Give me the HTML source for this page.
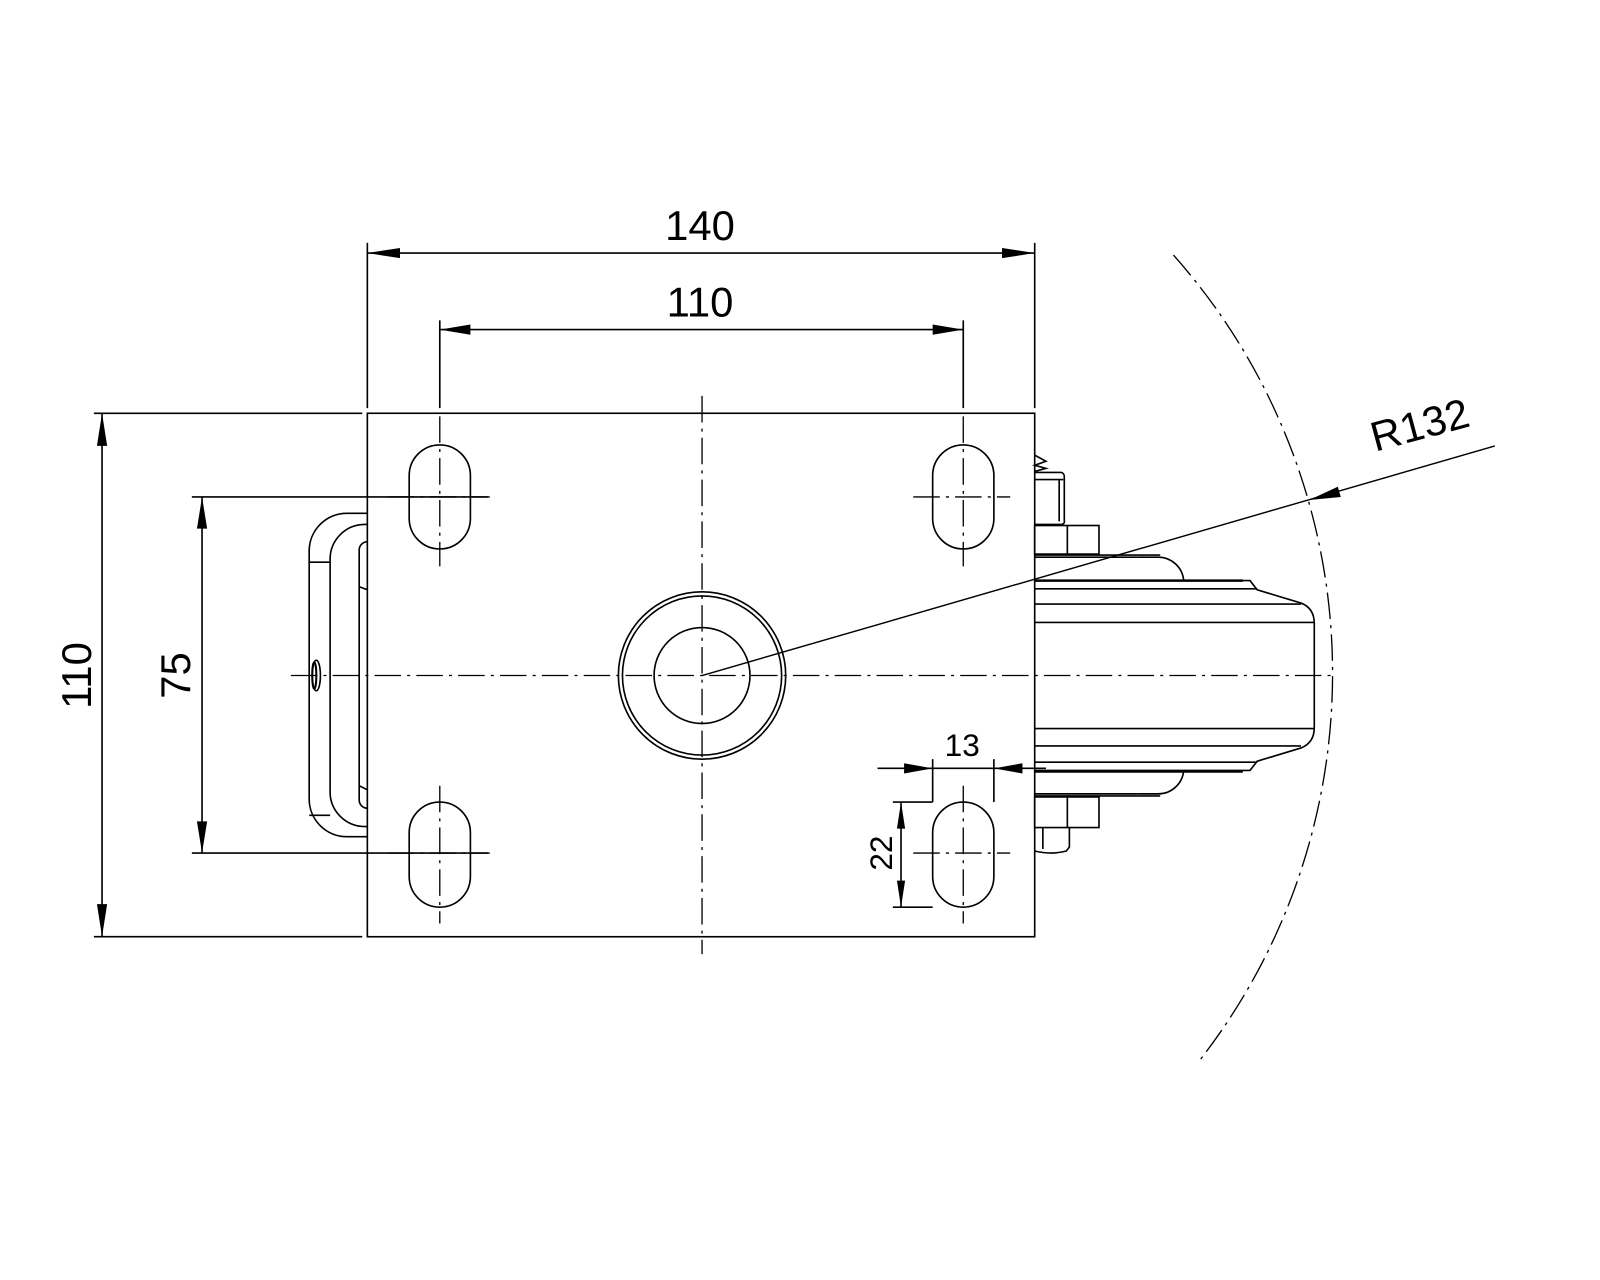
<!DOCTYPE html>
<html><head><meta charset="utf-8"><style>
html,body{margin:0;padding:0;background:#fff;}
svg{display:block;}
text{font-family:"Liberation Sans",sans-serif;fill:#000;}
</style></head><body>
<svg width="1600" height="1280" viewBox="0 0 1568 1254.4" xmlns="http://www.w3.org/2000/svg">
<g fill="none" stroke="#000" stroke-width="1.6">
<rect x="360" y="405" width="654" height="513"/>
<rect x="401" y="436" width="60" height="102" rx="30" ry="30"/>
<rect x="914" y="436" width="60" height="102" rx="30" ry="30"/>
<rect x="401" y="786" width="60" height="103" rx="30" ry="30"/>
<rect x="914" y="786" width="60" height="103" rx="30" ry="30"/>
<circle cx="688" cy="662" r="82"/>
<circle cx="688" cy="662" r="78"/>
<circle cx="688" cy="662" r="47"/>
<path d="M360 503 H340 A37 37 0 0 0 303 540 V783 A37 37 0 0 0 340 820 H360"/>
<path d="M360 514 H357 A34 34 0 0 0 323.5 548 V775 A34 34 0 0 0 357 810 H360"/>
<path d="M303 551 H323.5 M303 799 H323.5"/>
<path d="M360 531 A8 8 0 0 0 352 539 V784 A8 8 0 0 0 360 792"/>
<path d="M352 575 L360 578 M352 770 L360 774"/>
<ellipse cx="310" cy="662" rx="4" ry="15"/>
<ellipse cx="308" cy="662" rx="2" ry="13" stroke-width="2"/>
<path d="M1014 446 L1025 452 L1014 456 L1025 459 L1014 462"/>
<path d="M1014 463 H1040 A4 4 0 0 1 1043 467 V510 A3 3 0 0 1 1040 514 H1014"/>
<path d="M1014 470 H1042 M1038 470 V511"/>
<rect x="1014" y="515" width="63" height="28"/>
<path d="M1046 515 V543"/>
<path d="M1014 544 H1137 M1014 546 H1115"/>
<path d="M1115 546 H1135 A25 25 0 0 1 1160 569"/>
<path d="M1014 569 H1218" stroke-width="2.5"/>
<path d="M1014 569 H1225 L1232 578 L1275 591 Q1288 596 1288 611 V713 Q1288 728 1275 733 L1232 746 L1225 755 H1014"/>
<path d="M1014 577 H1232 M1014 592 H1275 M1014 610 H1288 M1014 714 H1288 M1014 731 H1275 M1014 747 H1232"/>
<path d="M1014 756 H1218" stroke-width="2.5"/>
<path d="M1115 778 H1135 A25 25 0 0 0 1160 755"/>
<path d="M1014 778 H1115 M1014 780 H1137"/>
<rect x="1014" y="781" width="63" height="30"/>
<path d="M1046 781 V811"/>
<path d="M1022 811 V832 M1014 834 Q1030 838 1045 834 L1048 830 V811"/>
<path d="M688 662 L1465 437" stroke-width="1.4"/>
<path d="M360 248 H1014 M431 323 H944"/>
<path d="M360 238 V400 M1014 238 V400 M431 314 V400 M944 314 V400"/>
<path d="M100 405 V918 M198 487 V836"/>
<path d="M92 405 H355 M92 918 H355 M188 487 H478 M188 836 H478"/>
<path d="M860 753 H1025 M914 744 V786 M974 744 V786"/>
<path d="M883 786 V889 M875 786 H914 M875 889 H914"/>
</g>
<g fill="none" stroke="#000" stroke-width="1.3" stroke-dasharray="26 6 3 6">
<path d="M688 388 V935"/>
<path d="M285 662 H1305"/>
<path d="M431 408 V555 M944 408 V555 M431 770 V905 M944 770 V905"/>
<path d="M380 487 H480 M895 487 H990 M380 836 H480 M895 836 H990"/>
<path d="M1150 250 A617 617 0 0 1 1175 1040"/>
</g>
<g fill="#000">
<polygon points="360,248 392,243 392,253"/>
<polygon points="1014,248 982,243 982,253"/>
<polygon points="431,323 461,318 461,328"/>
<polygon points="944,323 914,318 914,328"/>
<polygon points="100,405 95,437 105,437"/>
<polygon points="100,918 95,886 105,886"/>
<polygon points="198,487 193,518 203,518"/>
<polygon points="198,836 193,805 203,805"/>
<polygon points="914,753 886,748 886,758"/>
<polygon points="974,753 1002,748 1002,758"/>
<polygon points="883,786 879,812 887,812"/>
<polygon points="883,889 879,863 887,863"/>
<polygon points="1283,490 1311,477 1314,487"/>
</g>
<g font-size="41">
<text x="686" y="235" text-anchor="middle">140</text>
<text x="686" y="310" text-anchor="middle">110</text>
<text transform="translate(89,662) rotate(-90)" text-anchor="middle">110</text>
<text transform="translate(186,662) rotate(-90)" text-anchor="middle">75</text>
<text transform="translate(1395,430) rotate(-15)" text-anchor="middle">R132</text>
</g>
<g font-size="31">
<text x="943" y="741" text-anchor="middle">13</text>
<text transform="translate(874,836) rotate(-90)" text-anchor="middle">22</text>
</g>
</svg>
</body></html>
